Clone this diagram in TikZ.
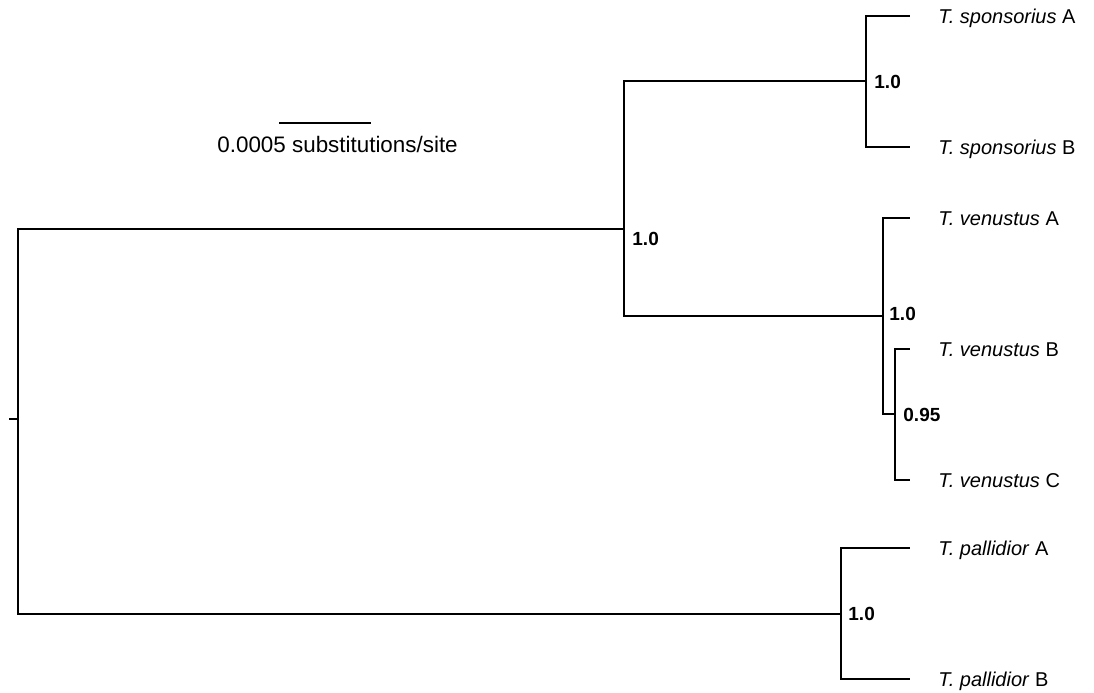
\documentclass[tikz,border=0pt]{standalone}
\usepackage{fontspec}
\setmainfont{Liberation Sans}
\begin{document}
\begin{tikzpicture}[x=0.5pt,y=-0.5pt,
  branch/.style={line width=1.15pt, line join=miter},
  tip/.style={anchor=base west, inner sep=0pt, font=\fontsize{10}{12}\selectfont},
  support/.style={anchor=base west, inner sep=0pt, font=\fontsize{9.5}{11}\selectfont\bfseries},
  scaletext/.style={anchor=base west, inner sep=0pt, font=\fontsize{11.2}{13}\selectfont},
]
\useasboundingbox (0,0) rectangle (1094,692);

% internal nodes of the tree
\coordinate (stub) at (9,419);
\coordinate (root) at (18,419);
\coordinate (nA) at (624,229);
\coordinate (nS) at (866,81);
\coordinate (nV) at (883,316);
\coordinate (nV2) at (895,414);
\coordinate (nP) at (841,614);

% tip ends
\coordinate (tSA) at (910,16);
\coordinate (tSB) at (910,147);
\coordinate (tVA) at (910,218);
\coordinate (tVB) at (910,349);
\coordinate (tVC) at (910,480);
\coordinate (tPA) at (910,548);
\coordinate (tPB) at (910,679);

% branches
\draw[branch] (stub) -- (root);
\draw[branch] (root) |- (nA);
\draw[branch] (root) |- (nP);
\draw[branch] (nA) |- (nS);
\draw[branch] (nA) |- (nV);
\draw[branch] (nS) |- (tSA);
\draw[branch] (nS) |- (tSB);
\draw[branch] (nV) |- (tVA);
\draw[branch] (nV) |- (nV2);
\draw[branch] (nV2) |- (tVB);
\draw[branch] (nV2) |- (tVC);
\draw[branch] (nP) |- (tPA);
\draw[branch] (nP) |- (tPB);

% tip labels
\node[tip] (lSA) at (938,23) {\textit{T. sponsorius} A};
\node[tip] (lSB) at (938,154) {\textit{T. sponsorius} B};
\node[tip] (lVA) at (938,225) {\textit{T. venustus} A};
\node[tip] (lVB) at (938,356) {\textit{T. venustus} B};
\node[tip] (lVC) at (938,487) {\textit{T. venustus} C};
\node[tip] (lPA) at (938,555) {\textit{T. pallidior} A};
\node[tip] (lPB) at (938,686) {\textit{T. pallidior} B};

% posterior support values
\node[support] (sA) at (632,245) {1.0};
\node[support] (sS) at (874,88) {1.0};
\node[support] (sV) at (889,320) {1.0};
\node[support] (sV2) at (903,421) {0.95};
\node[support] (sP) at (848,620.5) {1.0};

% scale bar
\coordinate (barL) at (279,123);
\coordinate (barR) at (371,123);
\draw[branch] (barL) -- (barR);
\node[scaletext] (scale) at (217,152) {0.0005 substitutions/site};
\end{tikzpicture}
\end{document}
